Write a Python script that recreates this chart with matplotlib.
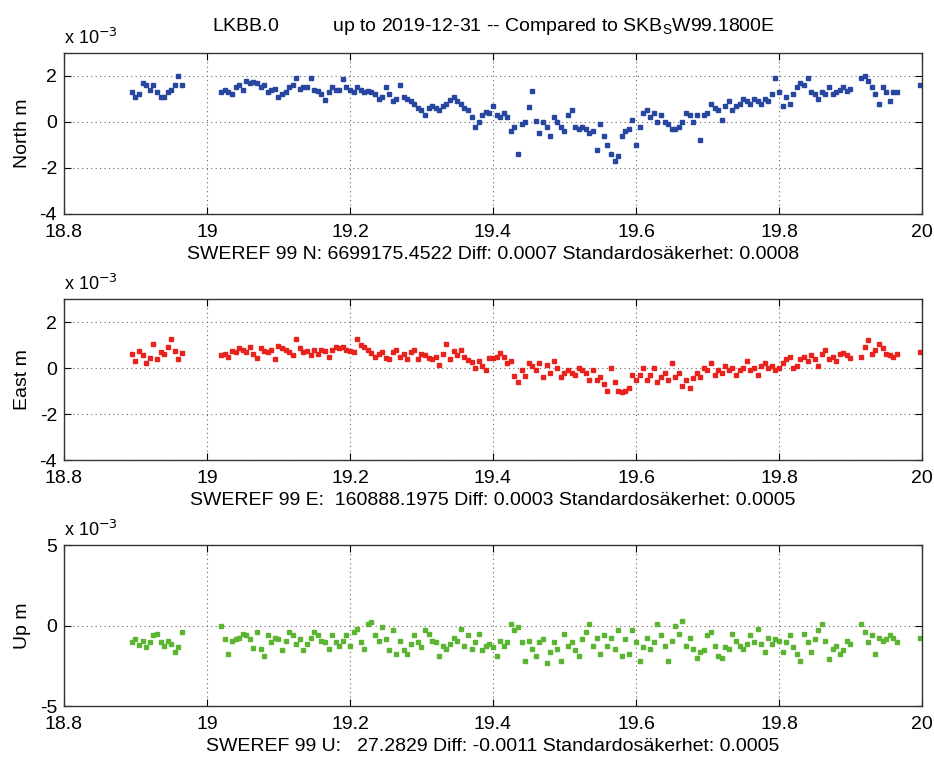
import numpy as np
import matplotlib
matplotlib.use("Agg")
import matplotlib.pyplot as plt

plt.rcParams['font.family'] = ['Liberation Sans', 'DejaVu Sans']
plt.rcParams['axes.unicode_minus'] = False

# epochs (decimal year - 2000), sampled every 0.005
t_a = 18.895 + 0.005 * np.arange(15)
t_b = 19.020 + 0.005 * np.arange(177)
t_c = 19.915 + 0.005 * np.arange(11)
t_d = np.array([19.997])
t = np.concatenate([t_a, t_b, t_c, t_d])

# residuals, units of 1e-3 m
north = [
    1.3, 1.1, 1.2, 1.7, 1.6, 1.4, 1.6, 1.3, 1.1, 1.1, 1.3, 1.4, 1.6, 2.0, 1.6,
    # 19.020 ->
    1.3, 1.4, 1.3, 1.2, 1.5, 1.6, 1.4, 1.8, 1.7, 1.75,
    1.7, 1.5, 1.6, 1.3, 1.4, 1.45, 1.1, 1.2, 1.3, 1.5,
    1.6, 1.9, 1.45, 1.5, 1.5, 1.9, 1.4, 1.35, 1.2, 0.95,
    1.3, 1.5, 1.4, 1.4, 1.85, 1.5, 1.4, 1.3, 1.5, 1.4,
    1.3, 1.35, 1.3, 1.2, 1.0, 1.1, 1.5, 1.2, 0.9, 1.0,
    1.6, 1.1, 1.0, 0.9, 0.8, 0.6, 0.5, 0.3, 0.6, 0.7,
    0.6, 0.5, 0.7, 0.8, 0.95, 1.1, 0.9, 0.8, 0.6, 0.5,
    0.2, -0.2, 0.0, 0.3, 0.45, 0.4, 0.7, 0.3, 0.2, 0.4,
    0.2, -0.4, -0.2, -1.4, -0.1, 0.0, 0.65, 1.35, 0.05, -0.5,
    0.0, -0.2, -0.6, 0.2, 0.0, -0.2, -0.4, 0.3, 0.5, -0.2,
    -0.3, -0.2, -0.3, -0.5, -0.4, -1.2, -0.1, -0.6, -1.0, -1.4,
    -1.7, -1.5, -0.6, -0.4, -0.3, 0.1, -1.0, -0.2, 0.4, 0.5,
    0.2, 0.4, 0.0, 0.3, 0.0, -0.1, -0.3, -0.3, -0.2, 0.0,
    0.4, 0.3, 0.0, 0.3, -0.8, 0.3, 0.4, 0.8, 0.6, 0.5,
    0.1, 0.7, 0.9, 0.5, 0.7, 0.8, 1.0, 0.9, 0.8, 1.0,
    0.9, 0.8, 1.0, 0.9, 1.2, 1.9, 1.3, 0.7, 1.1, 0.8,
    1.2, 1.5, 1.7, 1.6, 1.9, 1.3, 1.2, 1.0, 1.3, 1.2,
    1.5, 1.2, 1.3, 1.4, 1.5, 1.35, 1.45,
    # 19.915 ->
    1.9, 2.0, 1.8, 1.5, 1.2, 0.8, 1.5, 1.3, 0.9, 1.3, 1.3,
    1.6,
]

east = [
    0.6, 0.3, 0.75, 0.55, 0.2, 0.45, 1.05, 0.4, 0.7, 0.6, 0.9, 1.25, 0.75, 0.4, 0.65,
    0.55, 0.6, 0.5, 0.75, 0.7, 0.85, 0.8, 0.7, 0.9, 0.6,
    0.45, 0.85, 0.75, 0.7, 0.8, 0.4, 0.95, 0.85, 0.8, 0.7,
    0.55, 1.25, 0.85, 0.7, 0.75, 0.55, 0.8, 0.6, 0.8, 0.75,
    0.5, 0.8, 0.9, 0.85, 0.9, 0.8, 0.75, 0.7, 1.25, 1.0,
    0.9, 0.8, 0.65, 0.5, 0.6, 0.7, 0.45, 0.4, 0.7, 0.8,
    0.5, 0.6, 0.4, 0.7, 0.8, 0.4, 0.6, 0.55, 0.45, 0.4,
    0.5, 0.15, 0.6, 1.05, 0.4, 0.75, 0.55, 0.8, 0.5, 0.35,
    0.25, 0.0, 0.3, 0.1, -0.1, 0.45, 0.45, 0.5, 0.65, 0.5,
    0.2, 0.3, -0.35, -0.6, -0.1, -0.35, 0.2, 0.1, -0.1, 0.2,
    -0.4, 0.15, -0.2, 0.3, 0.0, -0.4, -0.2, -0.1, -0.2, -0.3,
    0.0, -0.1, -0.2, -0.5, -0.1, -0.5, -0.4, -0.7, -1.0, 0.0,
    -0.6, -1.0, -1.05, -1.0, -0.85, -0.3, -0.5, -0.3, 0.0, -0.5,
    -0.3, 0.0, -0.6, -0.4, -0.2, -0.5, 0.2, -0.4, -0.2, -0.8,
    -0.5, -0.85, -0.45, -0.2, -0.4, 0.0, -0.1, 0.2, -0.3, -0.1,
    -0.2, 0.1, -0.1, 0.0, -0.3, -0.1, 0.0, 0.3, -0.1, 0.0,
    -0.3, 0.1, 0.2, 0.0, 0.1, -0.1, 0.0, 0.2, 0.4, 0.5,
    0.0, 0.1, 0.4, 0.5, 0.3, 0.55, 0.4, 0.1, 0.6, 0.8,
    0.4, 0.5, 0.3, 0.6, 0.65, 0.55, 0.45,
    0.5, 0.9, 1.2, 0.6, 0.8, 1.05, 0.85, 0.6, 0.55, 0.5, 0.6,
    0.7,
]

up = [
    -1.05, -0.85, -1.2, -0.95, -1.35, -1.05, -0.6, -0.5, -1.05, -1.25, -0.95, -1.15, -1.65, -1.35, -0.4,
    -0.05, -0.85, -1.75, -0.95, -0.85, -0.75, -0.5, -0.6, -0.85, -1.4,
    -0.4, -1.45, -1.9, -0.6, -1.05, -0.75, -0.85, -1.55, -0.95, -0.4,
    -0.6, -1.15, -0.85, -1.55, -1.15, -0.75, -0.4, -0.6, -0.95, -1.05,
    -1.45, -0.6, -1.05, -1.25, -0.95, -0.6, -1.25, -0.4, -0.2, -1.05,
    -1.45, 0.1, 0.2, -0.6, -0.95, -0.1, -0.85, -1.55, -0.3, -1.75,
    -0.95, -1.55, -1.75, -1.15, -0.6, -1.05, -1.35, -0.3, -0.5, -0.95,
    -1.05, -1.9, -1.25, -1.45, -1.15, -0.75, -0.95, -0.2, -1.25, -0.6,
    -1.45, -1.05, -0.5, -1.55, -1.25, -1.15, -1.35, -1.9, -0.95, -1.25,
    -1.05, 0.1, -0.3, -0.1, -1.05, -2.2, -0.95, -1.45, -1.9, -1.05,
    -0.85, -2.3, -1.65, -1.05, -1.45, -2.2, -0.5, -1.25, -1.05, -1.55,
    -1.9, -0.85, -0.4, 0.1, -1.25, -0.75, -1.75, -0.6, -1.25, -0.75,
    -1.45, -0.3, -1.9, -0.85, -1.75, -0.3, -1.05, -2.2, -1.35, -0.75,
    -1.45, -1.05, 0.1, -0.6, -1.25, -2.2, -0.95, 0.0, -0.5, 0.3,
    -1.25, -0.75, -1.45, -2.0, -1.65, -1.55, -0.6, -0.4, -1.25, -1.9,
    -2.0, -1.35, -1.45, -0.5, -0.95, -1.25, -1.45, -1.15, -0.6, -1.05,
    -0.2, -1.15, -1.65, -0.75, -1.15, -0.85, -0.95, -1.65, -1.05, -0.6,
    -1.35, -1.75, -2.2, -0.5, -1.05, -1.65, -0.85, -0.3, 0.1, -0.95,
    -2.1, -1.45, -1.25, -1.75, -1.55, -0.95, -1.15,
    0.1, -0.4, -1.05, -0.6, -1.75, -0.75, -0.95, -0.85, -0.6, -0.75, -1.05,
    -0.75,
]

xticks = [18.8, 19.0, 19.2, 19.4, 19.6, 19.8, 20.0]
xticklabels = ['18.8', '19', '19.2', '19.4', '19.6', '19.8', '20']

panels = [
    (north, '#2646a0', 'North m', [-4, -2, 0, 2], (-4, 3),
     'SWEREF 99 N: 6699175.4522 Diff: 0.0007 Standardosäkerhet: 0.0008'),
    (east, '#e8221c', 'East m', [-4, -2, 0, 2], (-4, 3),
     'SWEREF 99 E:  160888.1975 Diff: 0.0003 Standardosäkerhet: 0.0005'),
    (up, '#5cb532', 'Up m', [-5, 0, 5], (-5, 5),
     'SWEREF 99 U:   27.2829 Diff: -0.0011 Standardosäkerhet: 0.0005'),
]

fig = plt.figure(figsize=(9.34, 7.58), dpi=100)
bottoms = [0.7177, 0.3931, 0.0686]

for (vals, col, ylab, yt, ylim, xlab), b in zip(panels, bottoms):
    ax = fig.add_axes([0.0685, b, 0.9186, 0.2124])
    ax.plot(t, vals, linestyle='none', marker='s', ms=3.2, color=col, mec=col)
    ax.set_xlim(18.8, 20.0)
    ax.set_ylim(*ylim)
    ax.set_xticks(xticks)
    ax.set_xticklabels(xticklabels)
    ax.set_yticks(yt)
    ax.grid(True, linestyle=(0, (1, 3)), color='#666666', linewidth=0.8)
    ax.tick_params(direction='in', top=True, right=True, labelsize=14, length=5)
    ax.tick_params(axis='x', pad=7)
    ax.tick_params(axis='y', pad=5)
    ax.set_ylabel(ylab, fontsize=14, labelpad=6)
    ax.set_xlabel(xlab, fontsize=14, labelpad=4)
    for s in ax.spines.values():
        s.set_color('#333333')
        s.set_linewidth(1.0)
    ax.text(0.0, 1.03, r'x 10$^{-3}$', transform=ax.transAxes, fontsize=13,
            ha='left', va='bottom')
    if b == bottoms[0]:
        ax.set_title('LKBB.0          up to 2019-12-31 -- Compared to SKB$_\\mathregular{S}$W99.1800E',
                     fontsize=14, pad=16)

fig.savefig('out.png', dpi=100)
